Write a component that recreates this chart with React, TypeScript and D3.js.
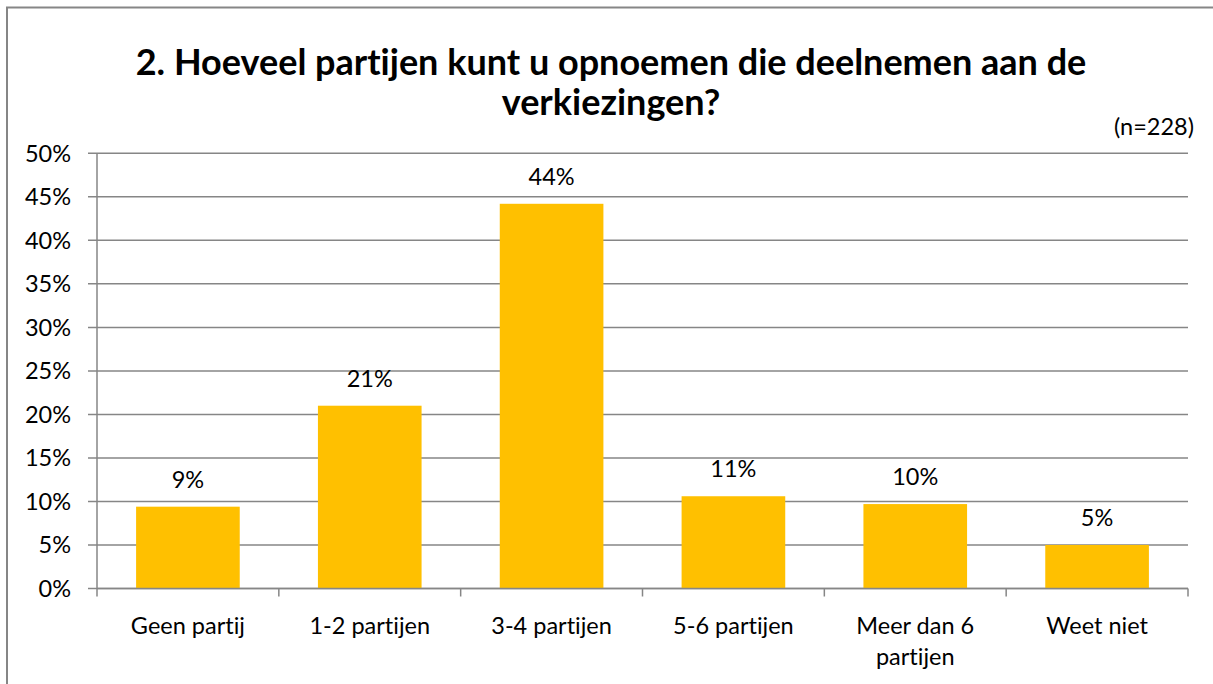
import React from "react";
import * as d3 from "d3";

const categories: string[][] = [
  ["Geen partij"],
  ["1-2 partijen"],
  ["3-4 partijen"],
  ["5-6 partijen"],
  ["Meer dan 6", "partijen"],
  ["Weet niet"],
];
const values: number[] = [9.4, 21.0, 44.2, 10.6, 9.7, 5.0];
const valueLabels: string[] = ["9%", "21%", "44%", "11%", "10%", "5%"];
const yTicks: number[] = [0, 5, 10, 15, 20, 25, 30, 35, 40, 45, 50];
const titleLines: string[] = [
  "2. Hoeveel partijen kunt u opnoemen die deelnemen aan de",
  "verkiezingen?",
];
const subtitle = "(n=228)";

const W = 1213;
const H = 684;
const FONT = "Lato, 'Open Sans', sans-serif";
const GRID = "#868686";
const BAR = "#FFC000";

export default function App() {
  const left = 97;
  const right = 1188;
  const top = 153.3;
  const bottom = 588.5;

  const x = d3
    .scaleBand<number>()
    .domain(d3.range(categories.length))
    .range([left, right])
    .paddingInner(0.43)
    .paddingOuter(0.215);
  const step = (right - left) / categories.length;
  const y = d3.scaleLinear().domain([0, 50]).range([bottom, top]);

  return (
    <svg
      width={W}
      height={H}
      style={{
        position: "absolute",
        left: 0,
        top: 0,
        background: "#fff",
        fontVariantLigatures: "none",
        fontFeatureSettings: '"liga" 0, "clig" 0',
      }}
      fontFamily={FONT}
    >
      <rect x={7} y={7.5} width={W + 10} height={H + 10} fill="#fff" stroke={GRID} strokeWidth={2} />
      {titleLines.map((t, i) => (
        <text
          key={i}
          x={611}
          y={75 + i * 40}
          textAnchor="middle"
          fontSize={36}
          fontWeight="bold"
          fill="#000"
        >
          {t}
        </text>
      ))}
      <text x={1194} y={135} textAnchor="end" fontSize={23.5} fill="#000">
        {subtitle}
      </text>
      {yTicks.map((t) => (
        <g key={t}>
          <line x1={left - 9} x2={right} y1={y(t)} y2={y(t)} stroke={GRID} strokeWidth={1.5} />
          <text x={71} y={y(t)} dy="0.36em" textAnchor="end" fontSize={23.5} fill="#000">
            {t}%
          </text>
        </g>
      ))}
      <line x1={left} x2={left} y1={top} y2={bottom} stroke={GRID} strokeWidth={1.5} />
      {values.map((v, i) => (
        <g key={i}>
          <rect x={x(i)} y={y(v)} width={x.bandwidth()} height={bottom - y(v)} fill={BAR} />
          <text
            x={(x(i) as number) + x.bandwidth() / 2}
            y={y(v) - 19}
            textAnchor="middle"
            fontSize={23.5}
            fill="#000"
          >
            {valueLabels[i]}
          </text>
        </g>
      ))}
      <line x1={left} x2={right} y1={bottom} y2={bottom} stroke={GRID} strokeWidth={1.5} />
      {d3.range(categories.length + 1).map((i) => (
        <line
          key={i}
          x1={left + i * step}
          x2={left + i * step}
          y1={bottom}
          y2={bottom + 8}
          stroke={GRID}
          strokeWidth={1.5}
        />
      ))}
      {categories.map((lines, i) => (
        <text
          key={i}
          x={(x(i) as number) + x.bandwidth() / 2}
          y={634}
          textAnchor="middle"
          fontSize={23.5}
          fill="#000"
        >
          {lines.map((l, j) => (
            <tspan key={j} x={(x(i) as number) + x.bandwidth() / 2} dy={j === 0 ? 0 : 31}>
              {l}
            </tspan>
          ))}
        </text>
      ))}
    </svg>
  );
}
